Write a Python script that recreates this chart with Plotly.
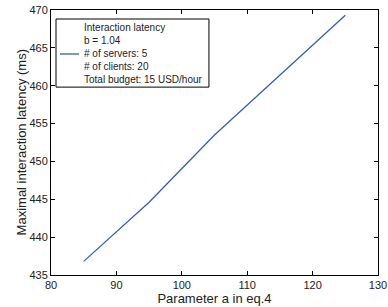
import plotly.graph_objects as go

a_values = [85, 95, 105, 115, 125]
latency = [436.8, 444.6, 453.5, 461.4, 469.3]
legend_lines = ["Interaction latency", "b = 1.04", "# of servers: 5", "# of clients: 20", "Total budget: 15 USD/hour"]
x_ticks = [80, 90, 100, 110, 120, 130]
y_ticks = [435, 440, 445, 450, 455, 460, 465, 470]

line_color = "#2F5FBF"
font_family = "Liberation Sans, Arial"

fig = go.Figure()
fig.add_trace(go.Scatter(x=a_values, y=latency, mode="lines",
                         line=dict(color=line_color, width=1.3),
                         name=legend_lines[0], showlegend=False))

axis_common = dict(showline=True, linecolor="black", linewidth=1, mirror="ticks",
                   ticks="inside", ticklen=4, tickcolor="black", showgrid=False,
                   zeroline=False, automargin=False,
                   tickfont=dict(family=font_family, size=11, color="#222"))
fig.update_xaxes(range=[80, 130], tickvals=x_ticks,
                 title=dict(text="Parameter a in eq.4", standoff=2,
                            font=dict(family=font_family, size=13, color="#222")),
                 **axis_common)
fig.update_yaxes(range=[435, 470], tickvals=y_ticks, **axis_common)

# Y axis title placed as an annotation for exact positioning
fig.add_annotation(xref="paper", yref="paper", x=-0.089, y=0.5, xanchor="center", yanchor="middle",
                   text="Maximal interaction latency (ms)", textangle=-90, showarrow=False,
                   font=dict(family=font_family, size=13, color="#222"))

# Legend box (MATLAB style): border, short line sample, multi-line text
fig.add_shape(type="rect", xref="paper", yref="paper", x0=0.0153, x1=0.483, y0=0.709, y1=0.966,
              line=dict(color="black", width=1), fillcolor="white", layer="above")
fig.add_shape(type="line", xref="paper", yref="paper", x0=0.0275, x1=0.0856, y0=0.834, y1=0.834,
              line=dict(color=line_color, width=1.3), layer="above")
fig.add_annotation(xref="paper", yref="paper", x=0.0948, y=0.834, xanchor="left", yanchor="middle",
                   text="<br>".join(legend_lines), showarrow=False, align="left",
                   font=dict(family=font_family, size=10, color="#222"))

fig.update_layout(width=388, height=307, margin=dict(l=51, r=10, t=10, b=32),
                  plot_bgcolor="white", paper_bgcolor="white", showlegend=False)
fig.write_html("out.html", config={"displayModeBar": False},
               post_script="document.body.style.margin='0';document.body.style.overflow='hidden';")
